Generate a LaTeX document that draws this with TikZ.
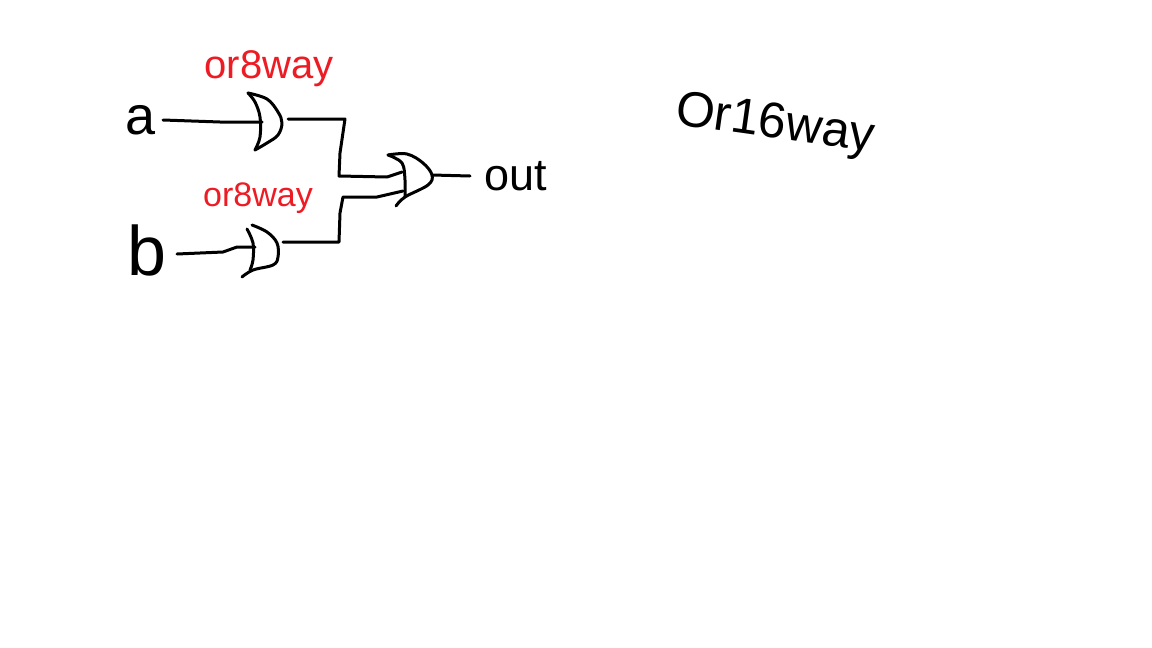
\documentclass[tikz,border=0pt]{standalone}
\usepackage{fontspec}
\setmainfont{Liberation Sans}
\definecolor{labelred}{HTML}{ED1C24}
\tikzset{
    wire/.style={line width=3pt, line cap=round, line join=round},
    inklabel/.style={inner sep=0pt, text=black},
    redlabel/.style={inner sep=0pt, text=labelred}
}
\begin{document}
\begin{tikzpicture}[x=1pt, y=-1pt]
    \useasboundingbox (0,0) rectangle (1152,648);

    % Labels
    \node[inklabel, font=\fontsize{54}{54}\selectfont] (a) at (141,120) {a};
    \node[inklabel, font=\fontsize{70}{70}\selectfont] (b) at (147,250) {b};
    \node[inklabel, font=\fontsize{45}{45}\selectfont] (out) at (516,176) {out};
    \node[redlabel, font=\fontsize{40}{40}\selectfont] (wayA) at (269,69) {or8way};
    \node[redlabel, font=\fontsize{34}{34}\selectfont] (wayB) at (258,198) {or8way};
    \node[inklabel, font=\fontsize{50}{50}\selectfont, rotate=-8] (title) at (775,126) {Or16way};

    % Wire ends and gate pins
    \coordinate (aend) at (163,120);
    \coordinate (bend) at (177,254);
    \coordinate (outend) at (470,176);
    \coordinate (gateAin) at (262,122);
    \coordinate (gateAout) at (288,119);
    \coordinate (gateBin) at (255,247);
    \coordinate (gateBout) at (283,242);
    \coordinate (gateCinA) at (402,172);
    \coordinate (gateCinB) at (403,191);
    \coordinate (gateCout) at (432,175);

    % Upper gate
    \draw[wire] plot[smooth, tension=0.6] coordinates {(248,93) (267,99) (278,112) (282,123) (278,135) (267,143) (255,150)};
    \draw[wire] plot[smooth, tension=0.6] coordinates {(248,93) (255,102) (260,117) (260,137) (255,150)};

    % Lower gate
    \draw[wire] plot[smooth, tension=0.6] coordinates {(252,225) (267,232) (277,243) (278,257) (273,265) (253,270) (242,277)};
    \draw[wire] plot[smooth, tension=0.6] coordinates {(247,229) (253,243) (253,260) (250,270)};

    % Output gate
    \draw[wire] plot[smooth, tension=0.6] coordinates {(388,155) (407,154) (423,163) (432,175) (428,185) (405,197) (396,206)};
    \draw[wire] plot[smooth, tension=0.6] coordinates {(388,155) (402,163) (405,180) (405,197)};

    % Wires
    \draw[wire] (aend) -- (220,122) -- (gateAin);
    \draw[wire] (bend) -- (223,252) -- (237,247) -- (gateBin);
    \draw[wire] (gateAout) -- (345,119) -- (340,153) -- (339,176) -- (387,177) -- (gateCinA);
    \draw[wire] (gateBout) -- (339,242) -- (340,213) -- (343,197) -- (377,197) -- (gateCinB);
    \draw[wire] (gateCout) -- (outend);
\end{tikzpicture}
\end{document}
